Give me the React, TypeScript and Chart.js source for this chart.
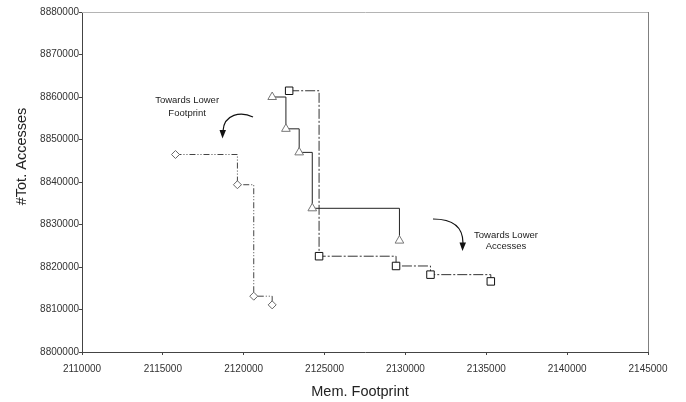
import React, { useEffect, useRef } from 'react';
import { Chart, registerables } from 'chart.js';

Chart.register(...registerables);

// ---- data ----
const diamondX = [2115780, 2119610, 2120620, 2121760];
const diamondY = [8846470, 8839360, 8813130, 8811090];

const triangleX = [2121760, 2122610, 2123430, 2124240, 2129630];
const triangleY = [8860000, 8852510, 8846970, 8833810, 8826210];

const squareX = [2122810, 2124660, 2129420, 2131550, 2135280];
const squareY = [8861470, 8822540, 8820240, 8818200, 8816610];

const xTickLabels = ['2110000', '2115000', '2120000', '2125000', '2130000', '2135000', '2140000', '2145000'];
const yTickLabels = ['8800000', '8810000', '8820000', '8830000', '8840000', '8850000', '8860000', '8870000', '8880000'];

const xTitle = 'Mem. Footprint';
const yTitle = '#Tot. Accesses';
const noteFootprint = ['Towards Lower', 'Footprint'];
const noteAccesses = ['Towards Lower', 'Accesses'];

const FONT = '"Liberation Sans", Arial, sans-serif';

const toPoints = (xs: number[], ys: number[]) => xs.map((x, i) => ({ x, y: ys[i] }));

const decorPlugin = {
  id: 'decor',
  beforeDatasetsDraw(chart: any) {
    const { ctx, chartArea } = chart;
    ctx.save();
    ctx.lineWidth = 1;
    ctx.strokeStyle = '#b4b4b4';
    ctx.beginPath();
    ctx.moveTo(chartArea.left, Math.round(chartArea.top) + 0.5);
    ctx.lineTo(chartArea.right + 1, Math.round(chartArea.top) + 0.5);
    ctx.stroke();
    ctx.strokeStyle = '#808080';
    ctx.beginPath();
    ctx.moveTo(Math.round(chartArea.right) + 0.5, chartArea.top);
    ctx.lineTo(Math.round(chartArea.right) + 0.5, chartArea.bottom);
    ctx.stroke();
    ctx.restore();
  },
  afterDraw(chart: any) {
    const { ctx, chartArea } = chart;
    const xs = chart.scales.x;
    const ys = chart.scales.y;
    ctx.save();
    // axis titles
    ctx.fillStyle = '#222';
    ctx.font = `14.5px ${FONT}`;
    ctx.textAlign = 'center';
    ctx.textBaseline = 'middle';
    ctx.fillText(xTitle, (chartArea.left + chartArea.right) / 2 - 5, 392);
    ctx.save();
    ctx.translate(22, ys.getPixelForValue(8846000));
    ctx.rotate(-Math.PI / 2);
    ctx.fillText(yTitle, 0, 0);
    ctx.restore();

    // annotation texts
    ctx.font = `9.5px ${FONT}`;
    ctx.fillStyle = '#222';
    const fx = xs.getPixelForValue(2116500);
    const fy = ys.getPixelForValue(8859300);
    ctx.fillText(noteFootprint[0], fx, fy);
    ctx.fillText(noteFootprint[1], fx, fy + 13);
    const ax = xs.getPixelForValue(2136220);
    const ay = ys.getPixelForValue(8827500);
    ctx.fillText(noteAccesses[0], ax, ay);
    ctx.fillText(noteAccesses[1], ax, ay + 11.5);

    // curved arrows
    ctx.strokeStyle = '#111';
    ctx.fillStyle = '#111';
    ctx.lineWidth = 1.2;
    ctx.beginPath();
    ctx.moveTo(253, 117);
    ctx.bezierCurveTo(241, 111, 224, 114, 223, 131);
    ctx.stroke();
    ctx.beginPath();
    ctx.moveTo(219.5, 130);
    ctx.lineTo(226, 130);
    ctx.lineTo(222.5, 138.5);
    ctx.closePath();
    ctx.fill();

    ctx.beginPath();
    ctx.moveTo(433, 219);
    ctx.quadraticCurveTo(463, 219, 463, 243);
    ctx.stroke();
    ctx.beginPath();
    ctx.moveTo(459.5, 242.5);
    ctx.lineTo(466, 242.5);
    ctx.lineTo(462.5, 251);
    ctx.closePath();
    ctx.fill();
    ctx.restore();
  },
};

export default function App() {
  const ref = useRef<HTMLCanvasElement | null>(null);

  useEffect(() => {
    if (!ref.current) return;
    Chart.defaults.font.family = FONT;
    const chart = new Chart(ref.current, {
      type: 'scatter',
      data: {
        datasets: [
          {
            label: 'diamond',
            data: toPoints(diamondX, diamondY),
            showLine: true,
            stepped: 'before',
            borderColor: '#444',
            borderWidth: 1,
            borderDash: [6, 2, 1, 2, 1, 2],
            pointStyle: 'rectRot',
            pointRadius: 4,
            pointBorderColor: '#666',
            pointBackgroundColor: '#fff',
            pointBorderWidth: 1,
          },
          {
            label: 'triangle',
            data: toPoints(triangleX, triangleY),
            showLine: true,
            stepped: 'before',
            borderColor: '#222',
            borderWidth: 1,
            pointStyle: 'triangle',
            pointRadius: 5,
            pointBorderColor: '#777',
            pointBackgroundColor: '#fff',
            pointBorderWidth: 1,
          },
          {
            label: 'square',
            data: toPoints(squareX, squareY),
            showLine: true,
            stepped: 'before',
            borderColor: '#333',
            borderWidth: 1,
            borderDash: [10, 2, 2, 2],
            pointStyle: 'rect',
            pointRadius: 5.3,
            pointBorderColor: '#111',
            pointBackgroundColor: '#fff',
            pointBorderWidth: 1,
          },
        ],
      },
      options: {
        animation: false,
        responsive: false,
        events: [],
        layout: { padding: { top: 12, right: 38, left: 0, bottom: 0 } },
        plugins: { legend: { display: false }, tooltip: { enabled: false } },
        scales: {
          x: {
            type: 'linear',
            min: Number(xTickLabels[0]),
            max: Number(xTickLabels[xTickLabels.length - 1]),
            afterBuildTicks: (scale: any) => {
              scale.ticks = xTickLabels.map((v) => ({ value: Number(v) }));
            },
            afterFit: (scale: any) => {
              scale.height = 50;
            },
            grid: { drawOnChartArea: false, drawTicks: true, tickLength: 3, tickColor: '#444' },
            border: { display: true, color: '#444', width: 1 },
            ticks: {
              padding: 8,
              maxRotation: 0,
              autoSkip: false,
              color: '#333',
              font: { size: 10, family: FONT },
              callback: (v: any) => String(v),
            },
          },
          y: {
            type: 'linear',
            min: Number(yTickLabels[0]),
            max: Number(yTickLabels[yTickLabels.length - 1]),
            afterBuildTicks: (scale: any) => {
              scale.ticks = yTickLabels.map((v) => ({ value: Number(v) }));
            },
            afterFit: (scale: any) => {
              scale.width = 82;
            },
            grid: { drawOnChartArea: false, drawTicks: true, tickLength: 3, tickColor: '#444' },
            border: { display: true, color: '#444', width: 1 },
            ticks: {
              padding: 0,
              autoSkip: false,
              color: '#333',
              font: { size: 10, family: FONT },
              callback: (v: any) => String(v),
            },
          },
        },
      },
      plugins: [decorPlugin],
    } as any);
    return () => chart.destroy();
  }, []);

  return (
    <div style={{ position: 'absolute', left: 0, top: 0, width: 686, height: 402, background: '#fff' }}>
      <canvas ref={ref} width={686} height={402} style={{ display: 'block' }} />
    </div>
  );
}
